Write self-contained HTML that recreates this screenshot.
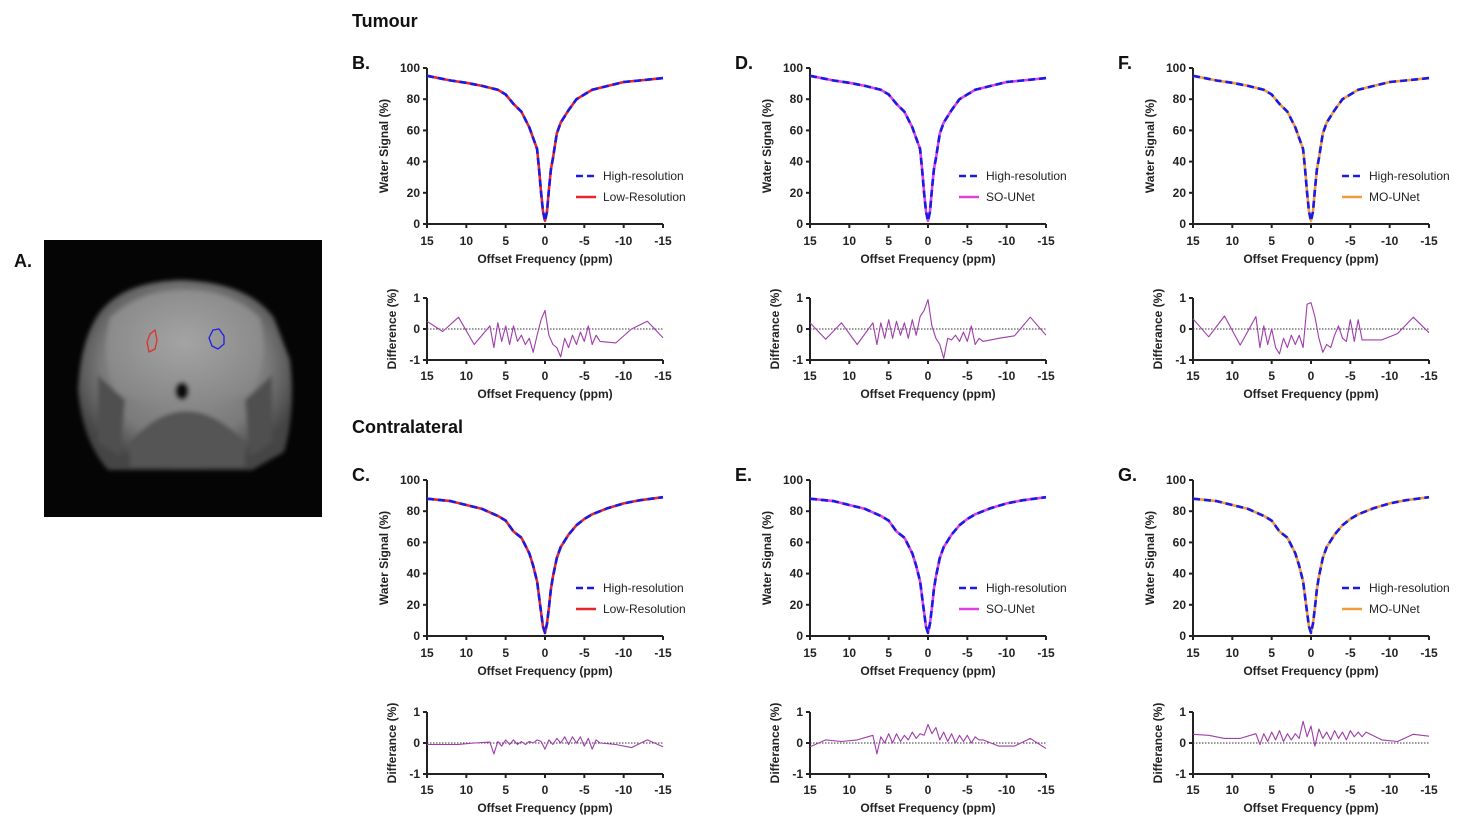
<!DOCTYPE html>
<html><head><meta charset="utf-8">
<style>
html,body{margin:0;padding:0;background:#fff;}
svg{display:block;font-family:"Liberation Sans",Arial,sans-serif;}
.tk{font-size:12px;font-weight:bold;fill:#222;}
.ttl{font-size:12px;font-weight:bold;fill:#222;}
.lg{font-size:12px;fill:#222;}
.pl{font-size:18px;font-weight:bold;fill:#111;}
</style></head>
<body>
<svg id="fig" width="1475" height="837" viewBox="0 0 1475 837" xmlns="http://www.w3.org/2000/svg">
  <defs>
    <radialGradient id="headG" cx="50%" cy="45%" r="55%">
      <stop offset="0%" stop-color="#9a9a9a"/>
      <stop offset="70%" stop-color="#7a7a7a"/>
      <stop offset="100%" stop-color="#454545"/>
    </radialGradient>
    <radialGradient id="brainG" cx="50%" cy="45%" r="60%">
      <stop offset="0%" stop-color="#a4a4a4"/>
      <stop offset="100%" stop-color="#858585"/>
    </radialGradient>
    <filter id="blur"><feGaussianBlur stdDeviation="2"/></filter>
  </defs>
  <text class="pl" x="352" y="27" font-size="17">Tumour</text>
  <text class="pl" x="352" y="433" font-size="17">Contralateral</text>
  <text class="pl" x="14" y="267" font-size="16">A.</text>
  <g>
    <rect x="44" y="240" width="278" height="277" fill="#050505"/>
    <g filter="url(#blur)">
      <path d="M96,318 Q118,282 180,280 Q248,282 274,318 L290,360 Q296,410 284,452 L252,470 L108,470 Q82,440 78,390 Q80,345 96,318 Z" fill="url(#headG)"/>
      <path d="M110,318 Q140,290 185,290 Q230,290 260,318 Q270,360 252,392 Q220,406 185,406 Q150,406 116,392 Q100,360 110,318 Z" fill="url(#brainG)"/>
      <path d="M130,442 Q185,380 245,442 L245,467 L130,467 Z" fill="#555"/>
      <ellipse cx="182" cy="391" rx="7" ry="9" fill="#111"/>
      <path d="M98,375 L125,400 L120,457 L98,442 Z" fill="#505050"/>
      <path d="M272,375 L245,400 L250,457 L272,442 Z" fill="#505050"/>
    </g>
    <path d="M150,334 L155,330 L157,340 L155,349 L149,352 L147,342 Z" fill="none" stroke="#e0302a" stroke-width="1.3"/>
    <path d="M213,330 L219,329 L224,336 L224,344 L218,349 L212,346 L209,338 Z" fill="none" stroke="#2020e0" stroke-width="1.3"/>
  </g>
</svg>
<script>
// ---------- data ----------
const zPpm = [15,12,10,8,6,5,4,3,2,1.5,1,0.75,0.5,0.25,0,-0.25,-0.5,-0.75,-1,-1.5,-2,-3,-4,-5,-6,-8,-10,-12,-15];
const zTumour = [95,92,90.5,88.5,86,83,77,72,62,55,48,35,20,8,2,8,22,35,42,58,65,73,80,83,86,88.5,91,92,93.5];
const zContra = [88,86.5,84,81.5,77,74,67,63,53,45,35,25,15,6,2,8,18,30,38,50,57,65,71,75,78,82,85,87,89];
const diffPpm = [15,13,11,9,7,6.5,6,5.5,5,4.5,4,3.5,3,2.5,2,1.5,1,0.5,0,-0.5,-1,-1.5,-2,-2.5,-3,-3.5,-4,-4.5,-5,-5.5,-6,-6.5,-7,-9,-11,-13,-15];
const diffB = [0.25,-0.08,0.38,-0.5,0.1,-0.6,0.2,-0.4,0.1,-0.5,0.1,-0.4,-0.2,-0.5,-0.3,-0.75,-0.2,0.3,0.6,-0.2,-0.5,-0.6,-0.9,-0.3,-0.6,-0.2,-0.5,-0.1,-0.4,0.1,-0.5,-0.2,-0.4,-0.45,0,0.25,-0.28];
const diffD = [0.2,-0.33,0.2,-0.5,0.2,-0.5,0.2,-0.3,0.3,-0.3,0.25,-0.2,0.2,-0.3,0.3,-0.2,0.4,0.6,0.95,0.1,-0.3,-0.5,-0.95,-0.3,-0.35,-0.2,-0.4,-0.1,-0.4,0.1,-0.5,-0.3,-0.4,-0.3,-0.22,0.38,-0.2];
const diffF = [0.33,-0.25,0.42,-0.52,0.4,-0.6,0.1,-0.5,0,-0.6,-0.8,-0.3,-0.6,-0.2,-0.5,-0.2,-0.6,0.8,0.85,0.4,-0.3,-0.75,-0.5,-0.6,-0.2,0.1,-0.3,-0.4,0.3,-0.4,0.3,-0.35,-0.35,-0.35,-0.15,0.38,-0.12];
const diffC = [-0.05,-0.05,-0.05,0,0.03,-0.35,0.05,-0.1,0.1,-0.05,0.1,-0.05,0.05,-0.05,0.05,0,0.1,0.05,-0.2,0.1,-0.05,0.15,0,0.2,-0.05,0.2,0,0.2,-0.1,0.15,-0.2,0.1,0,-0.05,-0.15,0.1,-0.12];
const diffE = [-0.12,0.1,0.05,0.1,0.25,-0.35,0.2,0,0.3,0,0.3,0.05,0.25,0.1,0.35,0.15,0.3,0.25,0.6,0.3,0.5,0.1,0.35,0.05,0.3,0,0.25,0.05,0.25,0,0.2,0.1,0.1,-0.1,-0.1,0.15,-0.18];
const diffG = [0.28,0.25,0.15,0.15,0.3,-0.05,0.3,0.05,0.35,0.1,0.4,0.05,0.3,0.1,0.3,0.15,0.7,0.2,0.55,-0.1,0.45,0.15,0.35,0.1,0.4,0.15,0.35,0.1,0.4,0.2,0.35,0.2,0.35,0.1,0.05,0.28,0.22];
const xTicks = [15,10,5,0,-5,-10,-15];
const yTicks = [0,20,40,60,80,100];
const dTicks = [-1,0,1];

const NS = "http://www.w3.org/2000/svg";
const svg = document.getElementById('fig');
function mk(tag, attrs, parent, txt){
  const e = document.createElementNS(NS, tag);
  for (const k in attrs) e.setAttribute(k, attrs[k]);
  if (txt !== undefined) e.textContent = txt;
  (parent || svg).appendChild(e);
  return e;
}
function pathD(xs, ys, fx, fy){
  return xs.map((v,i)=>(i?'L':'M')+fx(v).toFixed(1)+','+fy(ys[i]).toFixed(1)).join(' ');
}

function panel(letter, ox, oy, dy, zData, diff, name2, color2){
  const W = 236, H = 156, DH = 62;
  const fx = v => ox + (15 - v) / 30 * W;
  const fy = v => oy + H - v / 100 * H;
  const fd = v => dy + DH/2 - v * DH/2;

  const g = mk('g', {});
  
  

  const lab = mk('text', {class:'pl', x: ox-75, y: oy+1}, g, letter + '.');
  
  

  const ax = mk('path', {d:`M${ox},${oy} L${ox},${oy+H} L${ox+W},${oy+H}`, fill:'none', stroke:'#222', 'stroke-width':2}, g);
  
  
  yTicks.forEach(t=>{
    mk('line',{x1:ox-4,x2:ox,y1:fy(t),y2:fy(t),stroke:'#222','stroke-width':2},g);
    const tl = mk('text',{class:'tk',x:ox-7,y:fy(t)+4,'text-anchor':'end'},g,String(t));
    
    
  });
  xTicks.forEach(t=>{
    mk('line',{x1:fx(t),x2:fx(t),y1:oy+H,y2:oy+H+4,stroke:'#222','stroke-width':2},g);
    const tl = mk('text',{class:'tk',x:fx(t),y:oy+H+21,'text-anchor':'middle'},g,String(t));
    
    
  });
  const xt = mk('text',{class:'ttl',x:ox+W/2,y:oy+H+39,'text-anchor':'middle'},g,'Offset Frequency (ppm)');
  
  
  const yt = mk('text',{class:'ttl',transform:`translate(${ox-39},${oy+H/2}) rotate(-90)`,'text-anchor':'middle'},g,'Water Signal (%)');
  
  

  const s2 = mk('path',{d:pathD(zPpm,zData,fx,fy),fill:'none',stroke:color2,'stroke-width':2.6,'stroke-linejoin':'round'},g);
  
  
  const s1 = mk('path',{d:pathD(zPpm,zData,fx,fy),fill:'none',stroke:'#1a1ae6','stroke-width':2.6,'stroke-dasharray':'7,4','stroke-linejoin':'round'},g);
  
  

  const lx = ox + 149, ly = oy + 108;
  const le1 = mk('g',{},g);
  
  
  mk('line',{x1:lx,x2:lx+20,y1:ly,y2:ly,stroke:'#1a1ae6','stroke-width':2.6,'stroke-dasharray':'7,4'},le1);
  mk('text',{class:'lg',x:lx+27,y:ly+4},le1,'High-resolution');
  const le2 = mk('g',{},g);
  
  
  mk('line',{x1:lx,x2:lx+20,y1:ly+21,y2:ly+21,stroke:color2,'stroke-width':2.6},le2);
  mk('text',{class:'lg',x:lx+27,y:ly+25},le2,name2);

  const dax = mk('path',{d:`M${ox},${dy} L${ox},${dy+DH} L${ox+W},${dy+DH}`,fill:'none',stroke:'#222','stroke-width':2},g);
  
  
  mk('line',{x1:ox,x2:ox+W,y1:fd(0),y2:fd(0),stroke:'#333','stroke-width':1,'stroke-dasharray':'1.5,1.5'},g);
  dTicks.forEach(t=>{
    mk('line',{x1:ox-4,x2:ox,y1:fd(t),y2:fd(t),stroke:'#222','stroke-width':2},g);
    const tl = mk('text',{class:'tk',x:ox-7,y:fd(t)+4,'text-anchor':'end'},g,String(t));
    
    
  });
  xTicks.forEach(t=>{
    mk('line',{x1:fx(t),x2:fx(t),y1:dy+DH,y2:dy+DH+4,stroke:'#222','stroke-width':2},g);
    const tl = mk('text',{class:'tk',x:fx(t),y:dy+DH+20,'text-anchor':'middle'},g,String(t));
    
    
  });
  const dxt = mk('text',{class:'ttl',x:ox+W/2,y:dy+DH+38,'text-anchor':'middle'},g,'Offset Frequency (ppm)');
  
  
  const dyt = mk('text',{class:'ttl',transform:`translate(${ox-31},${dy+DH/2}) rotate(-90)`,'text-anchor':'middle'},g, letter==='B' ? 'Difference (%)' : 'Differance (%)');
  
  
  const dl = mk('path',{d:pathD(diffPpm,diff,fx,fd),fill:'none',stroke:'#a03cab','stroke-width':1.1,'stroke-linejoin':'round'},g);
  
  
}

panel('B',427,68,298,zTumour,diffB,'Low-Resolution','#e8262a');
panel('D',810,68,298,zTumour,diffD,'SO-UNet','#e040e0');
panel('F',1193,68,298,zTumour,diffF,'MO-UNet','#f59a3a');
panel('C',427,480,712,zContra,diffC,'Low-Resolution','#e8262a');
panel('E',810,480,712,zContra,diffE,'SO-UNet','#e040e0');
panel('G',1193,480,712,zContra,diffG,'MO-UNet','#f59a3a');
</script>
</body></html>
